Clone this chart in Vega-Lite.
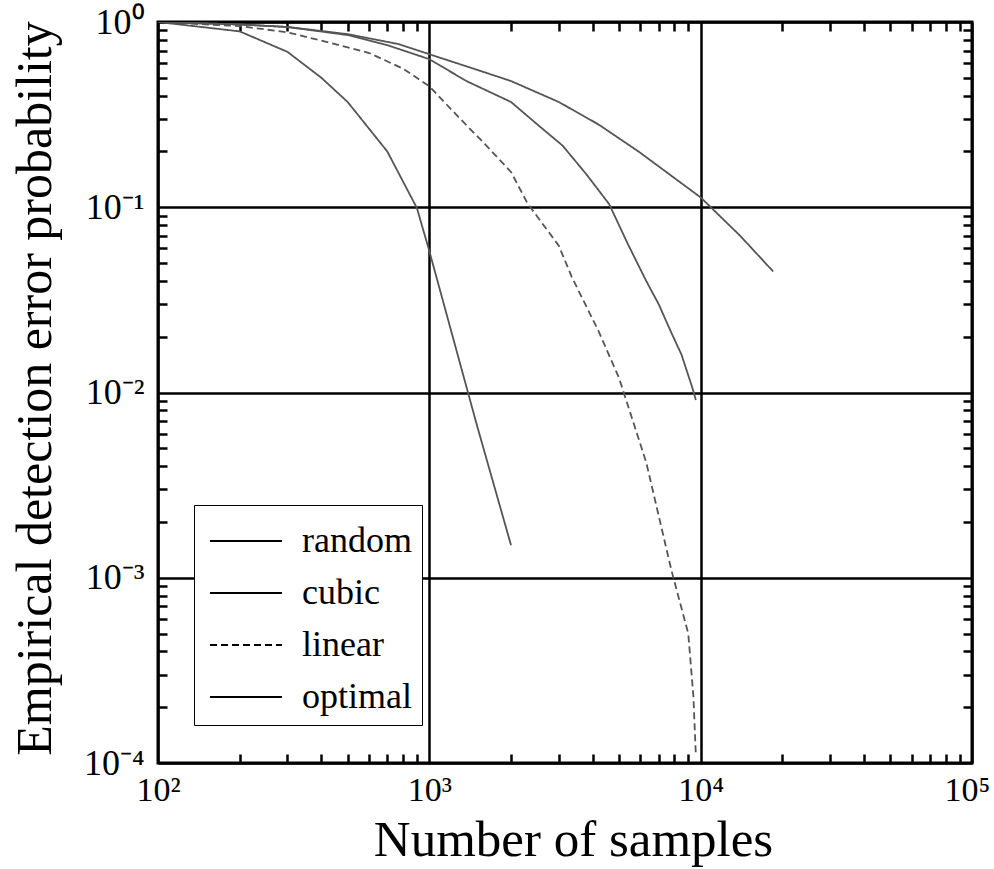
{
  "$schema": "https://vega.github.io/schema/vega-lite/v6.json",
  "width": 814,
  "height": 741,
  "autosize": {"type": "none"},
  "padding": {"left": 158, "top": 22, "right": 22, "bottom": 106},
  "background": "white",
  "config": {
    "view": {"stroke": "black", "strokeWidth": 3},
    "font": "Liberation Serif",
    "axis": {
      "labelFont": "Liberation Serif",
      "titleFont": "Liberation Serif",
      "labelColor": "black",
      "titleColor": "black",
      "titleFontWeight": "normal",
      "tickColor": "black",
      "gridColor": "black"
    }
  },
  "datasets": {
    "curves": [
      {"method": "random", "samples": 100, "err": 1.0},
      {"method": "random", "samples": 200, "err": 0.97},
      {"method": "random", "samples": 300, "err": 0.94},
      {"method": "random", "samples": 500, "err": 0.86},
      {"method": "random", "samples": 770, "err": 0.76},
      {"method": "random", "samples": 1000, "err": 0.67},
      {"method": "random", "samples": 1570, "err": 0.54},
      {"method": "random", "samples": 2000, "err": 0.48},
      {"method": "random", "samples": 3000, "err": 0.37},
      {"method": "random", "samples": 4200, "err": 0.28},
      {"method": "random", "samples": 5900, "err": 0.2},
      {"method": "random", "samples": 10000, "err": 0.113},
      {"method": "random", "samples": 14000, "err": 0.07},
      {"method": "random", "samples": 18500, "err": 0.045},
      {"method": "cubic", "samples": 100, "err": 1.0},
      {"method": "cubic", "samples": 200, "err": 0.97},
      {"method": "cubic", "samples": 300, "err": 0.94},
      {"method": "cubic", "samples": 500, "err": 0.85},
      {"method": "cubic", "samples": 700, "err": 0.75},
      {"method": "cubic", "samples": 1000, "err": 0.63},
      {"method": "cubic", "samples": 1370, "err": 0.48},
      {"method": "cubic", "samples": 2000, "err": 0.37},
      {"method": "cubic", "samples": 2500, "err": 0.28},
      {"method": "cubic", "samples": 3100, "err": 0.215},
      {"method": "cubic", "samples": 3800, "err": 0.15},
      {"method": "cubic", "samples": 4600, "err": 0.104},
      {"method": "cubic", "samples": 5400, "err": 0.063},
      {"method": "cubic", "samples": 6300, "err": 0.04},
      {"method": "cubic", "samples": 7000, "err": 0.03},
      {"method": "cubic", "samples": 7800, "err": 0.021},
      {"method": "cubic", "samples": 8500, "err": 0.016},
      {"method": "cubic", "samples": 9300, "err": 0.0107},
      {"method": "cubic", "samples": 9600, "err": 0.0091},
      {"method": "linear", "samples": 100, "err": 1.0},
      {"method": "linear", "samples": 200, "err": 0.95},
      {"method": "linear", "samples": 300, "err": 0.88},
      {"method": "linear", "samples": 450, "err": 0.76},
      {"method": "linear", "samples": 600, "err": 0.68},
      {"method": "linear", "samples": 800, "err": 0.56},
      {"method": "linear", "samples": 1000, "err": 0.45},
      {"method": "linear", "samples": 1300, "err": 0.3},
      {"method": "linear", "samples": 1600, "err": 0.22},
      {"method": "linear", "samples": 2000, "err": 0.155},
      {"method": "linear", "samples": 2300, "err": 0.105},
      {"method": "linear", "samples": 3000, "err": 0.062},
      {"method": "linear", "samples": 3350, "err": 0.042},
      {"method": "linear", "samples": 4200, "err": 0.0215},
      {"method": "linear", "samples": 5000, "err": 0.012},
      {"method": "linear", "samples": 6300, "err": 0.0042},
      {"method": "linear", "samples": 7800, "err": 0.0011},
      {"method": "linear", "samples": 9000, "err": 0.0005},
      {"method": "linear", "samples": 9400, "err": 0.00023},
      {"method": "linear", "samples": 9600, "err": 0.00011},
      {"method": "optimal", "samples": 100, "err": 1.0},
      {"method": "optimal", "samples": 200, "err": 0.89},
      {"method": "optimal", "samples": 300, "err": 0.69},
      {"method": "optimal", "samples": 400, "err": 0.5},
      {"method": "optimal", "samples": 500, "err": 0.37},
      {"method": "optimal", "samples": 700, "err": 0.2},
      {"method": "optimal", "samples": 900, "err": 0.099},
      {"method": "optimal", "samples": 1000, "err": 0.058},
      {"method": "optimal", "samples": 1500, "err": 0.0066},
      {"method": "optimal", "samples": 2000, "err": 0.0015}
    ],
    "extent": [
      {"samples": 100, "err": 0.0001},
      {"samples": 100000, "err": 1}
    ]
  },
  "layer": [
    {
      "data": {"name": "curves"},
      "mark": {"type": "line", "strokeWidth": 1.8, "clip": true, "color": "#555555"},
      "encoding": {
        "x": {
          "field": "samples", "type": "quantitative",
          "scale": {"type": "log", "domain": [100, 100000]},
          "axis": {
            "orient": "bottom",
            "values": [100, 1000, 10000, 100000],
            "grid": true, "gridWidth": 2.5, "gridOpacity": 1,
            "ticks": false, "domain": false,
            "labelExpr": "'10' + (round(log(datum.value)/LN10)==2 ? '²' : round(log(datum.value)/LN10)==3 ? '³' : round(log(datum.value)/LN10)==4 ? '⁴' : '⁵')",
            "labelFontSize": 34, "labelPadding": 10, "labelFlush": false, "labelOverlap": false,
            "labelOffset": {"condition": {"test": "datum.value > 50000", "value": -5}, "value": 0},
            "title": "Number of samples", "titleFontSize": 51,
            "titleX": 415, "titleY": 92, "titleBaseline": "alphabetic", "titleAlign": "center"
          }
        },
        "y": {
          "field": "err", "type": "quantitative",
          "scale": {"type": "log", "domain": [0.0001, 1]},
          "axis": {
            "orient": "left",
            "values": [0.0001, 0.001, 0.01, 0.1, 1],
            "grid": true, "gridWidth": 2.5, "gridOpacity": 1,
            "ticks": false, "domain": false,
            "labelExpr": "'10' + (round(log(datum.value)/LN10)==0 ? '⁰' : round(log(datum.value)/LN10)==-1 ? '⁻¹' : round(log(datum.value)/LN10)==-2 ? '⁻²' : round(log(datum.value)/LN10)==-3 ? '⁻³' : '⁻⁴')",
            "labelFontSize": 36, "labelPadding": 14, "labelFlush": false, "labelOverlap": false,
            "labelBaseline": "middle",
            "title": "Empirical detection error probability", "titleFontSize": 50,
            "titleX": -108, "titleY": 366, "titleBaseline": "alphabetic", "titleAlign": "center", "titleAngle": -90
          }
        },
        "strokeDash": {
          "field": "method", "type": "nominal",
          "scale": {"domain": ["random", "cubic", "linear", "optimal"], "range": [[1, 0], [1, 0], [7, 4], [1, 0]]},
          "legend": {
            "orient": "none", "legendX": 36, "legendY": 483,
            "title": null,
            "strokeColor": "black", "fillColor": "white", "padding": 10,
            "symbolType": "M-1.44,0H1.44", "symbolSize": 2500, "symbolStrokeWidth": 2, "symbolStrokeColor": "black",
            "symbolOffset": 16,
            "labelFont": "Liberation Serif", "labelFontSize": 36, "labelColor": "black",
            "labelOffset": 30, "rowPadding": 8
          }
        }
      }
    },
    {
      "data": {"name": "extent"},
      "mark": {"type": "point", "opacity": 0},
      "encoding": {
        "x": {
          "field": "samples", "type": "quantitative",
          "axis": {
            "orient": "bottom",
            "values": [200, 300, 400, 500, 600, 700, 800, 900, 2000, 3000, 4000, 5000, 6000, 7000, 8000, 9000, 20000, 30000, 40000, 50000, 60000, 70000, 80000, 90000],
            "grid": false, "labels": false, "domain": false, "title": null,
            "ticks": true, "tickSize": -9, "tickWidth": 2.5
          }
        },
        "y": {
          "field": "err", "type": "quantitative",
          "axis": {
            "orient": "left",
            "values": [0.0002, 0.0003, 0.0004, 0.0005, 0.0006, 0.0007, 0.0008, 0.0009, 0.002, 0.003, 0.004, 0.005, 0.006, 0.007, 0.008, 0.009, 0.02, 0.03, 0.04, 0.05, 0.06, 0.07, 0.08, 0.09, 0.2, 0.3, 0.4, 0.5, 0.6, 0.7, 0.8, 0.9],
            "grid": false, "labels": false, "domain": false, "title": null,
            "ticks": true, "tickSize": -9, "tickWidth": 2.5
          }
        }
      }
    },
    {
      "data": {"name": "extent"},
      "mark": {"type": "point", "opacity": 0},
      "encoding": {
        "x": {
          "field": "samples", "type": "quantitative",
          "axis": {
            "orient": "top",
            "values": [200, 300, 400, 500, 600, 700, 800, 900, 2000, 3000, 4000, 5000, 6000, 7000, 8000, 9000, 20000, 30000, 40000, 50000, 60000, 70000, 80000, 90000],
            "grid": false, "labels": false, "domain": false, "title": null,
            "ticks": true, "tickSize": -9, "tickWidth": 2.5
          }
        },
        "y": {
          "field": "err", "type": "quantitative",
          "axis": {
            "orient": "right",
            "values": [0.0002, 0.0003, 0.0004, 0.0005, 0.0006, 0.0007, 0.0008, 0.0009, 0.002, 0.003, 0.004, 0.005, 0.006, 0.007, 0.008, 0.009, 0.02, 0.03, 0.04, 0.05, 0.06, 0.07, 0.08, 0.09, 0.2, 0.3, 0.4, 0.5, 0.6, 0.7, 0.8, 0.9],
            "grid": false, "labels": false, "domain": false, "title": null,
            "ticks": true, "tickSize": -9, "tickWidth": 2.5
          }
        }
      }
    }
  ],
  "resolve": {"axis": {"x": "independent", "y": "independent"}}
}
